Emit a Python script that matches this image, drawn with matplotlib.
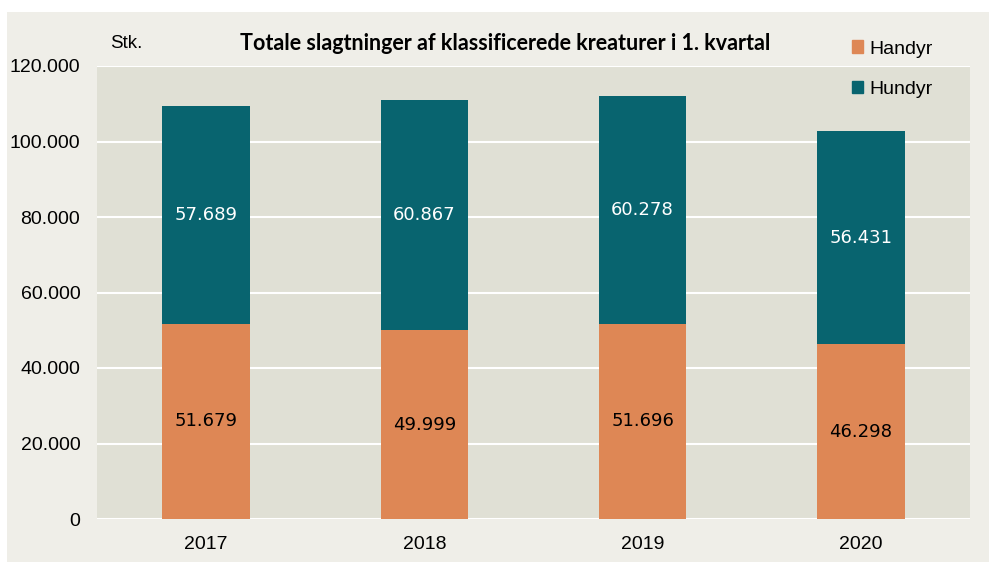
import matplotlib.pyplot as plt
from matplotlib.patches import Rectangle, Patch
from matplotlib.ticker import FuncFormatter

years = ["2017", "2018", "2019", "2020"]
handyr = [51679, 49999, 51696, 46298]
hundyr = [57689, 60867, 60278, 56431]
yticks = [0, 20000, 40000, 60000, 80000, 100000, 120000]

ORANGE = "#DE8755"
TEAL = "#08646F"
PANEL = "#EFEEE8"
PLOTBG = "#E0E0D5"

W, H = 989, 562
fig = plt.figure(figsize=(W / 100, H / 100), dpi=100)
fig.patch.set_facecolor("white")
fig.patches.append(Rectangle((7 / W, 0), 1 - 7 / W, (H - 12) / H,
                             transform=fig.transFigure, facecolor=PANEL,
                             edgecolor="none", zorder=-10))

ax = fig.add_axes([97 / W, (H - 519) / H, (970 - 97) / W, (519 - 66) / H])
ax.set_facecolor(PLOTBG)

x = range(len(years))
b1 = ax.bar(x, handyr, width=0.4, color=ORANGE, zorder=3)
b2 = ax.bar(x, hundyr, width=0.4, bottom=handyr, color=TEAL, zorder=3)


def dk(v):
    return "{:,}".format(int(v)).replace(",", ".")


for i in x:
    ax.text(i, handyr[i] / 2, dk(handyr[i]), ha="center", va="center",
            fontsize=13, color="black", family="DejaVu Sans", zorder=4)
    ax.text(i, handyr[i] + hundyr[i] / 2, dk(hundyr[i]), ha="center",
            va="center", fontsize=13, color="white", family="DejaVu Sans",
            zorder=4)

ax.set_xlim(-0.5, 3.5)
ax.set_ylim(0, 120000)
ax.set_yticks(yticks)
ax.yaxis.set_major_formatter(FuncFormatter(lambda v, p: dk(v)))
ax.set_xticks(list(x))
ax.set_xticklabels(years)
ax.tick_params(length=0, labelsize=14, labelfontfamily="Liberation Sans")
ax.tick_params(axis="y", pad=12)
ax.tick_params(axis="x", pad=12)
ax.grid(axis="y", color="white", linewidth=1.5, zorder=1)
for s in ax.spines.values():
    s.set_visible(False)

fig.text(110 / W, 1 - 44 / H, "Stk.", fontsize=13.5, family="Liberation Sans",
         va="center", ha="left")
fig.text(505 / W, 1 - 44 / H,
         "Totale slagtninger af klassificerede kreaturer i 1. kvartal",
         fontsize=15.5, fontweight="bold", family="Lato", ha="center",
         va="center")

handles = [Patch(color=ORANGE), Patch(color=TEAL)]
fig.legend(handles, ["Handyr", "Hundyr"], loc="upper left",
           bbox_to_anchor=(834 / W, 1 - 23 / H), frameon=False,
           prop={"family": "Liberation Sans", "size": 14},
           handlelength=0.6, handleheight=0.6, handletextpad=0.3,
           labelspacing=1.2)

fig.savefig("out.png", dpi=100, facecolor=fig.get_facecolor())
